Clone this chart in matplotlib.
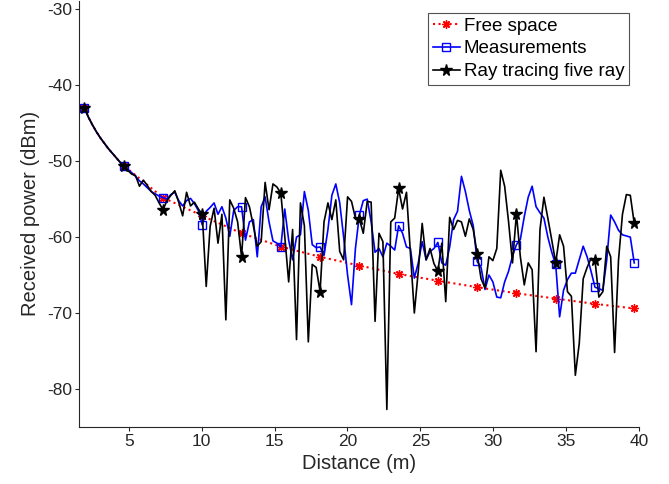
import numpy as np
import matplotlib
matplotlib.use("Agg")
import matplotlib.pyplot as plt

plt.rcParams['font.family'] = ['Liberation Sans', 'DejaVu Sans']
plt.rcParams['axes.unicode_minus'] = False

# Distance grid of the measurement route (m)
distance = np.linspace(1.95, 39.68, 141)

# Free-space prediction: every grid point up to 4.65 m, then every tenth point
free_space_index = list(range(0, 10)) + list(range(10, 141, 10))
free_space = [-43.0, -44.2, -45.2, -46.1, -46.9, -47.6, -48.3, -48.9, -49.5, -50.1,
              -50.6, -54.8, -57.2, -59.5, -61.25, -62.6, -63.75,
              -64.85, -65.75, -66.6, -67.4, -68.1, -68.8, -69.4]
free_space_markers = list(range(10, 24))

# Measured received power (dBm)
measurements = [
    -43.0, -44.2, -45.2, -46.1, -46.9, -47.6, -48.3, -48.9, -49.5, -50.1,
    -50.6, -51.1, -51.5, -52.0, -52.6, -53.0, -53.5, -54.0, -54.3, -54.6,
    -54.8, -55.0, -54.4, -54.1, -55.2, -55.9, -55.2, -54.9, -55.6, -56.5,
    -58.4, -56.6, -56.1, -55.5, -57.0, -56.0, -57.5, -59.9, -56.5, -56.0,
    -56.0, -60.4, -58.0, -57.7, -62.6, -56.0, -54.7, -58.0, -60.5, -60.8,
    -61.3, -56.3, -60.4, -63.0, -60.0, -59.7, -54.0, -56.5, -61.0, -61.4,
    -61.3, -62.4, -59.0, -54.5, -53.0, -55.5, -60.0, -65.0, -68.9, -61.5,
    -57.1, -55.2, -55.0, -58.0, -62.0, -61.5, -62.6, -60.8, -61.2, -61.7,
    -58.5, -59.5, -61.3, -61.5, -65.4, -63.4, -60.6, -63.0, -61.9, -61.5,
    -60.7, -63.4, -63.7, -61.3, -57.7, -56.6, -52.0, -54.0, -56.5, -58.5,
    -63.2, -64.0, -66.9, -65.0, -65.9, -67.9, -68.0, -65.9, -64.5, -62.5,
    -61.0, -60.3, -57.3, -54.75, -53.3, -56.0, -56.8, -57.5, -60.0, -62.0,
    -63.6, -70.5, -67.0, -65.6, -64.75, -64.75, -63.0, -61.2, -62.6, -64.5,
    -66.6, -66.8, -67.0, -63.0, -57.1, -58.0, -59.1, -59.7, -59.85, -60.0,
    -63.4,
]

# Five-ray ray-tracing prediction (dBm)
ray_tracing = [
    -43.0, -44.2, -45.2, -46.1, -46.9, -47.6, -48.3, -48.9, -49.5, -50.1,
    -50.7, -51.2, -51.7, -51.9, -53.3, -52.5, -53.2, -54.0, -54.5, -55.5,
    -56.4, -55.2, -54.5, -53.9, -55.4, -57.2, -54.1, -55.9, -55.4, -56.3,
    -57.0, -66.5, -58.6, -56.2, -60.8, -57.0, -70.9, -55.1, -56.2, -58.0,
    -62.6, -54.8, -56.0, -58.5, -61.2, -60.6, -52.8, -56.4, -53.0, -53.4,
    -54.2, -59.9, -65.9, -59.0, -73.5, -55.5, -58.5, -73.8, -63.6, -64.0,
    -67.2, -58.0, -55.5, -57.7, -55.1, -61.9, -63.0, -54.7, -55.3, -57.5,
    -57.6, -59.5, -55.3, -55.4, -71.1, -59.5, -60.6, -82.7, -58.0, -57.5,
    -53.6, -56.3, -54.1, -62.0, -70.0, -64.5, -58.2, -63.0, -61.5, -63.5,
    -64.5, -60.8, -68.5, -57.4, -59.0, -57.8, -58.0, -59.9, -57.6, -59.0,
    -62.2, -65.5, -66.7, -62.6, -63.1, -61.5, -51.2, -53.3, -58.0, -63.4,
    -56.9, -62.6, -66.3, -63.4, -64.3, -75.1, -59.0, -54.75, -57.5, -60.4,
    -63.4, -59.7, -61.2, -67.2, -67.8, -78.2, -74.0, -65.5, -64.0, -62.8,
    -63.0, -67.9, -67.2, -61.2, -62.6, -75.2, -63.0, -57.0, -54.4, -54.5,
    -58.2,
]

x_ticks = [5, 10, 15, 20, 25, 30, 35, 40]
y_ticks = [-80, -70, -60, -50, -40, -30]

fig = plt.figure(figsize=(6.69, 4.84), dpi=100)
ax = fig.add_axes([0.118, 0.118, 0.837, 0.880])

ax.plot(distance[free_space_index], free_space, color='red', linestyle=':',
        linewidth=1.5, marker=(8, 2, 0), markevery=[0] + free_space_markers,
        markersize=6, markeredgewidth=1.0, label='Free space')
ax.plot(distance, measurements, color='blue', linewidth=1.2,
        marker='s', markevery=10, markersize=5.5, markerfacecolor='none',
        markeredgewidth=1.0, label='Measurements')
ax.plot(distance, ray_tracing, color='black', linewidth=1.2,
        marker='*', markevery=10, markersize=8.5, markerfacecolor='black',
        label='Ray tracing five ray')

ax.set_xlim(1.57, 40)
ax.set_ylim(-85, -28.9)
ax.set_xticks(x_ticks)
ax.set_yticks(y_ticks)

axis_color = '#262626'
for side in ('top', 'right'):
    ax.spines[side].set_visible(False)
for side in ('left', 'bottom'):
    ax.spines[side].set_color(axis_color)
    ax.spines[side].set_linewidth(0.8)
ax.tick_params(direction='out', length=3, width=0.8, pad=2, colors=axis_color,
               labelsize=12.5, labelcolor=axis_color)

ax.set_xlabel('Distance (m)', fontsize=14.5, color=axis_color, labelpad=4)
ax.set_ylabel('Received power (dBm)', fontsize=14.5, color=axis_color, labelpad=5)

leg = ax.legend(loc='upper right', bbox_to_anchor=(0.982, 0.972),
                fontsize=13.5, frameon=True, fancybox=False, handlelength=1.45,
                handletextpad=0.2, borderpad=0.25, labelspacing=0.3,
                borderaxespad=0.0)
leg.get_frame().set_edgecolor(axis_color)
leg.get_frame().set_linewidth(0.8)

fig.savefig('out.png', dpi=100)
